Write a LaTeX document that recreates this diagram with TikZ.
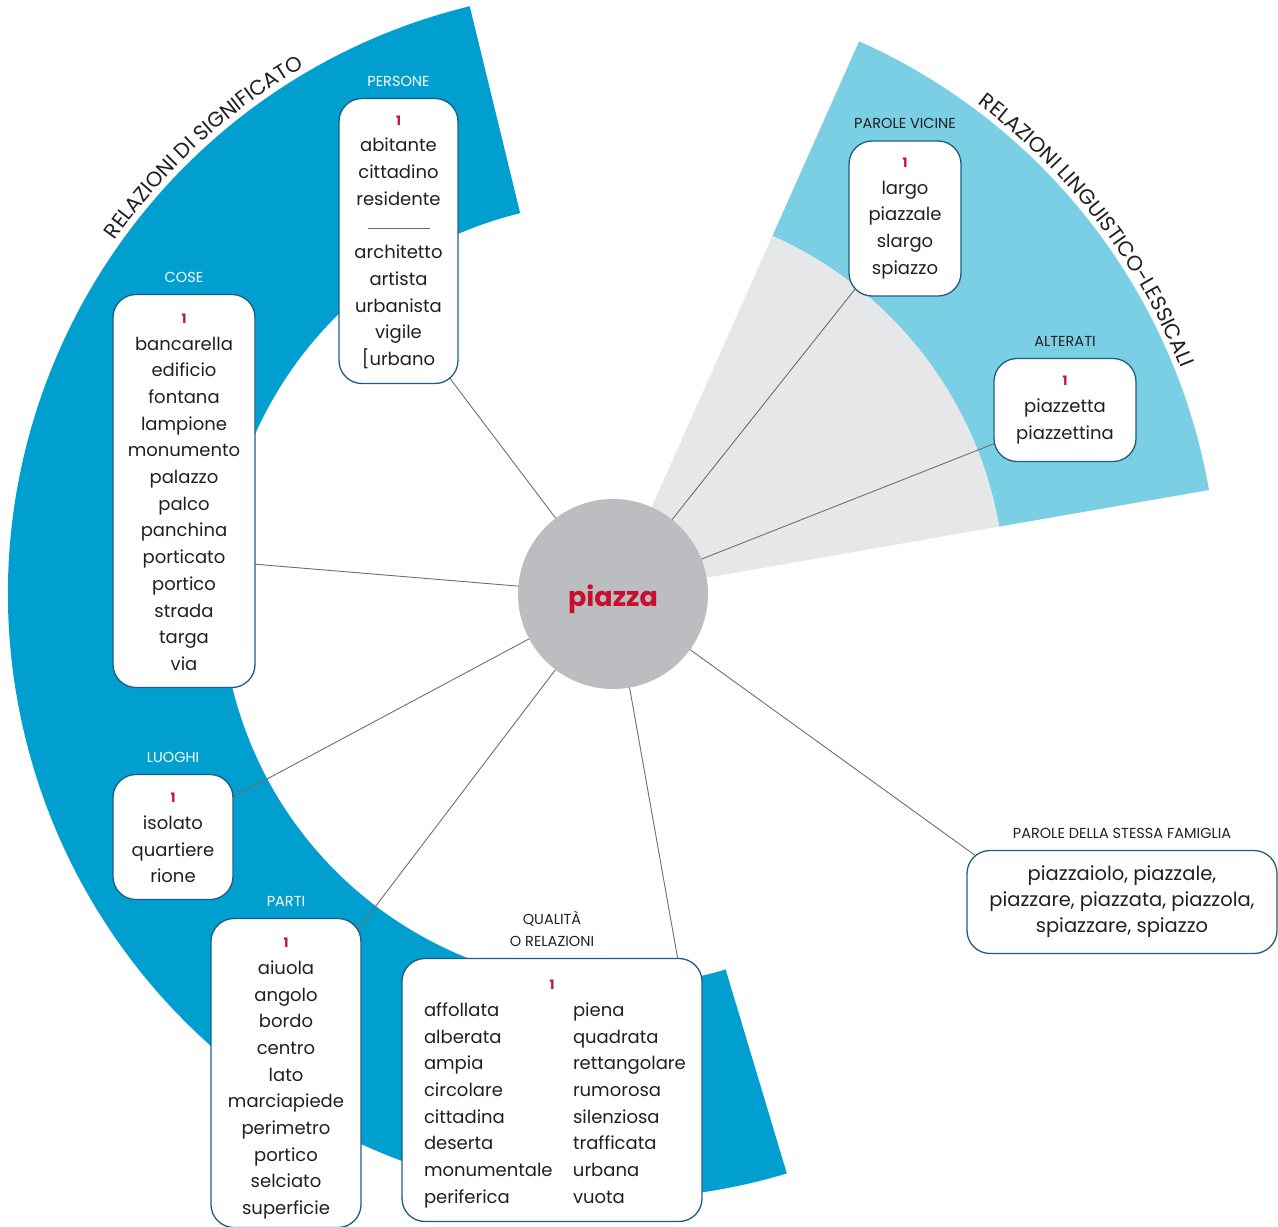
\documentclass[tikz,border=0pt]{standalone}
\usepackage{fontspec}
\setmainfont{Poppins}
\usetikzlibrary{decorations.text,calc}
\definecolor{secblue}{HTML}{009FCF}
\definecolor{lightsec}{HTML}{7ACFE5}
\definecolor{greysec}{HTML}{E6E7E8}
\definecolor{hubgrey}{HTML}{BCBDC0}
\definecolor{numred}{HTML}{C8102E}
\definecolor{ink}{HTML}{231F20}
\definecolor{linegrey}{HTML}{6D6E71}
\definecolor{boxblue}{HTML}{1D5E80}
\newcommand\wordfont{\fontsize{18}{26.7}\selectfont}
\newcommand\lblfont{\fontsize{14.5}{22}\selectfont}
\newcommand\curvefont{\fontsize{21}{21}\selectfont}
\newcommand\numone{{\color{numred}\fontsize{13}{26.7}\selectfont\bfseries 1}}
\pgfdeclarelayer{bg}
\pgfdeclarelayer{lines}
\pgfsetlayers{bg,lines,main}
\begin{document}
\begin{tikzpicture}[x=1pt,y=1pt,
  box/.style={draw=boxblue, line width=1.3pt, fill=white, rounded corners=23pt,
    align=center, inner sep=0pt, font=\wordfont, text=ink},
  lbl/.style={font=\lblfont, inner sep=0pt, text=ink, align=center, yshift=11.5pt},
  lblw/.style={lbl, text=white},
  conn/.style={draw=linegrey, line width=0.9pt}]
\useasboundingbox (0,0) rectangle (1278,-1227);

\begin{pgfonlayer}{bg}
\begin{scope}[shift={(613,-594)}]
  \fill[secblue] (103.7:605) arc[start angle=103.7,end angle=286.7,radius=605]
     -- (286.7:392) arc[start angle=286.7,end angle=103.7,radius=392] -- cycle;
  \fill[lightsec] (9.9:605) arc[start angle=9.9,end angle=66,radius=605]
     -- (66:392) arc[start angle=66,end angle=9.9,radius=392] -- cycle;
  \fill[greysec] (0,0) -- (9.9:392) arc[start angle=9.9,end angle=66,radius=392] -- cycle;
  \path[decorate, decoration={text along path, text align=center, text color=ink,
      text={|\curvefont|RELAZIONI DI SIGNIFICATO}}]
      (160.5:611) arc[start angle=160.5,end angle=104.5,radius=611];
  \path[decorate, decoration={text along path, text align=center, text color=ink,
      text={|\curvefont|RELAZIONI LINGUISTICO-LESSICALI}}]
      (71.5:611) arc[start angle=71.5,end angle=3.5,radius=611];
\end{scope}
\end{pgfonlayer}

\node[circle, fill=hubgrey, minimum size=190pt, inner sep=0pt,
  label={[font=\fontsize{27}{27}\selectfont\bfseries, text=numred, yshift=-5pt]center:piazza}]
  (hub) at (613,-594) {};

\node[box, minimum width=119pt, minimum height=285pt, label={[lblw]above:PERSONE}]
  (persone) at (398.5,-241)
  {\numone\rule{0pt}{12pt}\\abitante\\cittadino\\residente\\\textcolor{linegrey}{\rule[3pt]{62pt}{0.6pt}}\\architetto\\artista\\urbanista\\vigile\\{[}urbano};

\node[box, minimum width=142pt, minimum height=393pt, label={[lblw]above:COSE}]
  (cose) at (184,-491)
  {\numone\rule{0pt}{12pt}\\bancarella\\edificio\\fontana\\lampione\\monumento\\palazzo\\palco\\panchina\\porticato\\portico\\strada\\targa\\via};

\node[box, minimum width=120pt, minimum height=125pt, label={[lblw]above:LUOGHI}]
  (luoghi) at (173,-837)
  {\numone\rule{0pt}{12pt}\\isolato\\quartiere\\rione};

\node[box, minimum width=150pt, minimum height=309pt, label={[lblw]above:PARTI}]
  (parti) at (286,-1073)
  {\numone\rule{0pt}{21pt}\\aiuola\\angolo\\bordo\\centro\\lato\\marciapiede\\perimetro\\portico\\selciato\\superficie};

\node[box, minimum width=300pt, minimum height=263pt,
  label={[lbl]above:{QUALITÀ\\O RELAZIONI}}]
  (qual) at (552,-1090)
  {\numone\rule{0pt}{21pt}\\
   \begin{tabular}[t]{@{}p{149pt}@{}p{107pt}@{}}
   affollata & piena\\
   alberata & quadrata\\
   ampia & rettangolare\\
   circolare & rumorosa\\
   cittadina & silenziosa\\
   deserta & trafficata\\
   monumentale & urbana\\
   periferica & vuota
   \end{tabular}};

\node[box, minimum width=112pt, minimum height=155pt, label={[lbl]above:PAROLE VICINE}]
  (vicine) at (905,-218.5)
  {\numone\\largo\\piazzale\\slargo\\spiazzo};

\node[box, minimum width=142pt, minimum height=103pt, label={[lbl]above:ALTERATI}]
  (alterati) at (1065,-410)
  {\numone\\piazzetta\\piazzettina};

\node[box, minimum width=310pt, minimum height=103pt, font=\fontsize{19.5}{26}\selectfont,
  label={[lbl]above:PAROLE DELLA STESSA FAMIGLIA}]
  (famiglia) at (1122,-902)
  {piazzaiolo, piazzale,\\piazzare, piazzata, piazzola,\\spiazzare, spiazzo};

\begin{pgfonlayer}{lines}
  \draw[conn] (hub.center) -- ($(persone.south east)+(-24,26)$);
  \draw[conn] (hub.center) -- ($(cose.east)+(-15,-72)$);
  \draw[conn] (hub.center) -- ($(luoghi.east)+(-19,30)$);
  \draw[conn] (hub.center) -- ($(parti.north east)+(-26,-41)$);
  \draw[conn] (hub.center) -- ($(qual.north east)+(-21,-23)$);
  \draw[conn] (hub.center) -- ($(famiglia.north west)+(33,-23)$);
  \draw[conn] (hub.center) -- ($(alterati.west)+(24,-24.5)$);
  \draw[conn] (hub.center) -- ($(vicine.south west)+(19,23)$);
\end{pgfonlayer}
\end{tikzpicture}
\end{document}
